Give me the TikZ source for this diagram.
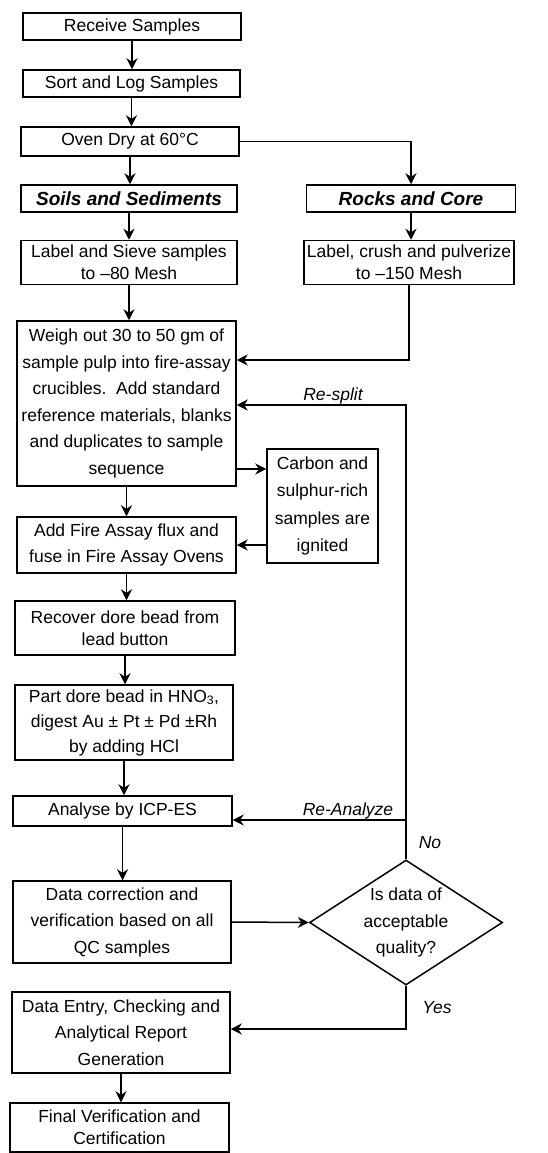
\documentclass[tikz,border=0pt]{standalone}
\usepackage{fontspec}
\setmainfont{Liberation Sans}
\usetikzlibrary{arrows.meta,shapes.geometric}
\begin{document}
\begin{tikzpicture}[x=1pt,y=-1pt,
  box/.style={draw, line width=1.5pt, rectangle, inner sep=0pt, align=center,
    font=\fontsize{17.5}{26.5}\selectfont},
  tight/.style={font=\fontsize{17.5}{22}\selectfont},
  head/.style={font=\fontsize{19}{22}\selectfont\bfseries\itshape},
  arr/.style={line width=1.5pt, -{Stealth[length=11pt,width=11pt]}},
  lbl/.style={font=\fontsize{17.5}{21}\selectfont\itshape, inner sep=0pt}]
\useasboundingbox (0,0) rectangle (547,1153);

% boxes
\node[box, minimum width=218pt, minimum height=27pt] (receive) at (132,26.5) {Receive Samples};
\node[box, minimum width=217pt, minimum height=27pt] (sort) at (131.5,83.5) {Sort and Log Samples};
\node[box, minimum width=218pt, minimum height=29pt] (oven) at (130,141.5) {Oven Dry at 60°C};
\node[box, head, minimum width=216pt, minimum height=27pt] (soils) at (129,198.5) {Soils and Sediments};
\node[box, head, minimum width=209pt, minimum height=27pt] (rocks) at (411,198.5) {Rocks and Core};
\node[box, tight, minimum width=216pt, minimum height=44pt] (sieve) at (129,262.5) {Label and Sieve samples\\to –80 Mesh};
\node[box, tight, minimum width=210pt, minimum height=44pt] (crush) at (409,262.5) {Label, crush and pulverize\\to –150 Mesh};
\node[box, minimum width=219pt, minimum height=165pt] (weigh) at (126.5,403.5) {Weigh out 30 to 50 gm of\\sample pulp into fire-assay\\crucibles.\ \ Add standard\\reference materials, blanks\\and duplicates to sample\\sequence};
\node[box, minimum width=111pt, minimum height=114pt, font=\fontsize{17.5}{27.5}\selectfont] (carbon) at (322.5,506) {Carbon and\\sulphur-rich\\samples are\\ignited};
\node[box, minimum width=219pt, minimum height=56pt] (addfire) at (126.5,545) {Add Fire Assay flux and\\fuse in Fire Assay Ovens};
\node[box, tight, minimum width=220pt, minimum height=54pt] (recover) at (125,628) {Recover dore bead from\\lead button};
\node[box, minimum width=218pt, minimum height=75pt, font=\fontsize{17.5}{25}\selectfont] (part) at (124,722.5) {Part dore bead in HNO\textsubscript{3},\\digest Au ± Pt ± Pd ±Rh\\by adding HCl};
\node[box, minimum width=219pt, minimum height=30pt] (analyse) at (122.5,811) {Analyse by ICP-ES};
\node[box, minimum width=218pt, minimum height=82pt] (datacorr) at (122,922) {Data correction and\\verification based on all\\QC samples};
\node[draw, diamond, line width=1.5pt, minimum width=193pt, minimum height=125pt, inner sep=0pt, aspect=1.54, align=center,
  font=\fontsize{17.5}{26.5}\selectfont] (dia) at (406,922.5) {Is data of\\acceptable\\quality?};
\node[box, minimum width=218pt, minimum height=81pt] (dataentry) at (121,1032.5) {Data Entry, Checking and\\Analytical Report\\Generation};
\node[box, tight, minimum width=219pt, minimum height=49pt] (final) at (119.5,1127.5) {Final Verification and\\Certification};

% helper levels
\coordinate (ycrush) at (0,360);
\coordinate (yresplit) at (0,405);
\coordinate (ycarbon) at (0,469);
\coordinate (yreanal) at (0,820);
\coordinate (yyes) at (0,1029);

% connectors
\draw[arr] (receive.south) -- (receive.south |- sort.north);
\draw[arr] (sort.south) -- (sort.south |- oven.north);
\draw[arr] (oven.south) -- (oven.south |- soils.north);
\draw[arr] (oven.east) -| (rocks.north);
\draw[arr] (soils.south) -- (soils.south |- sieve.north);
\draw[arr] (rocks.south) -- (rocks.south |- crush.north);
\draw[arr] (sieve.south) -- (sieve.south |- weigh.north);
\draw[arr] (crush.south) |- (weigh.east |- ycrush);
\draw[arr] (weigh.east |- ycarbon) -- (carbon.west |- ycarbon);
\draw[arr] (carbon.west |- addfire.east) -- (addfire.east);
\draw[arr] (weigh.south) -- (weigh.south |- addfire.north);
\draw[arr] (addfire.south) -- (addfire.south |- recover.north);
\draw[arr] (recover.south) -- (recover.south |- part.north);
\draw[arr] (part.south) -- (part.south |- analyse.north);
\draw[arr] (analyse.south) -- (analyse.south |- datacorr.north);
\draw[arr] (datacorr.east) -- (dia.west);
\draw[arr] (dia.north) |- (weigh.east |- yresplit);
\draw[arr] (dia.north |- yreanal) -- (analyse.east |- yreanal);
\draw[arr] (dia.south) |- (dataentry.east |- yyes);
\draw[arr] (dataentry.south) -- (dataentry.south |- final.north);

% labels
\node[lbl, anchor=base] (lresplit) at (333,400) {Re-split};
\node[lbl, anchor=base] (lreanal) at (348,815) {Re-Analyze};
\node[lbl] (lno) at (430,843) {No};
\node[lbl] (lyes) at (437,1008) {Yes};
\end{tikzpicture}
\end{document}
